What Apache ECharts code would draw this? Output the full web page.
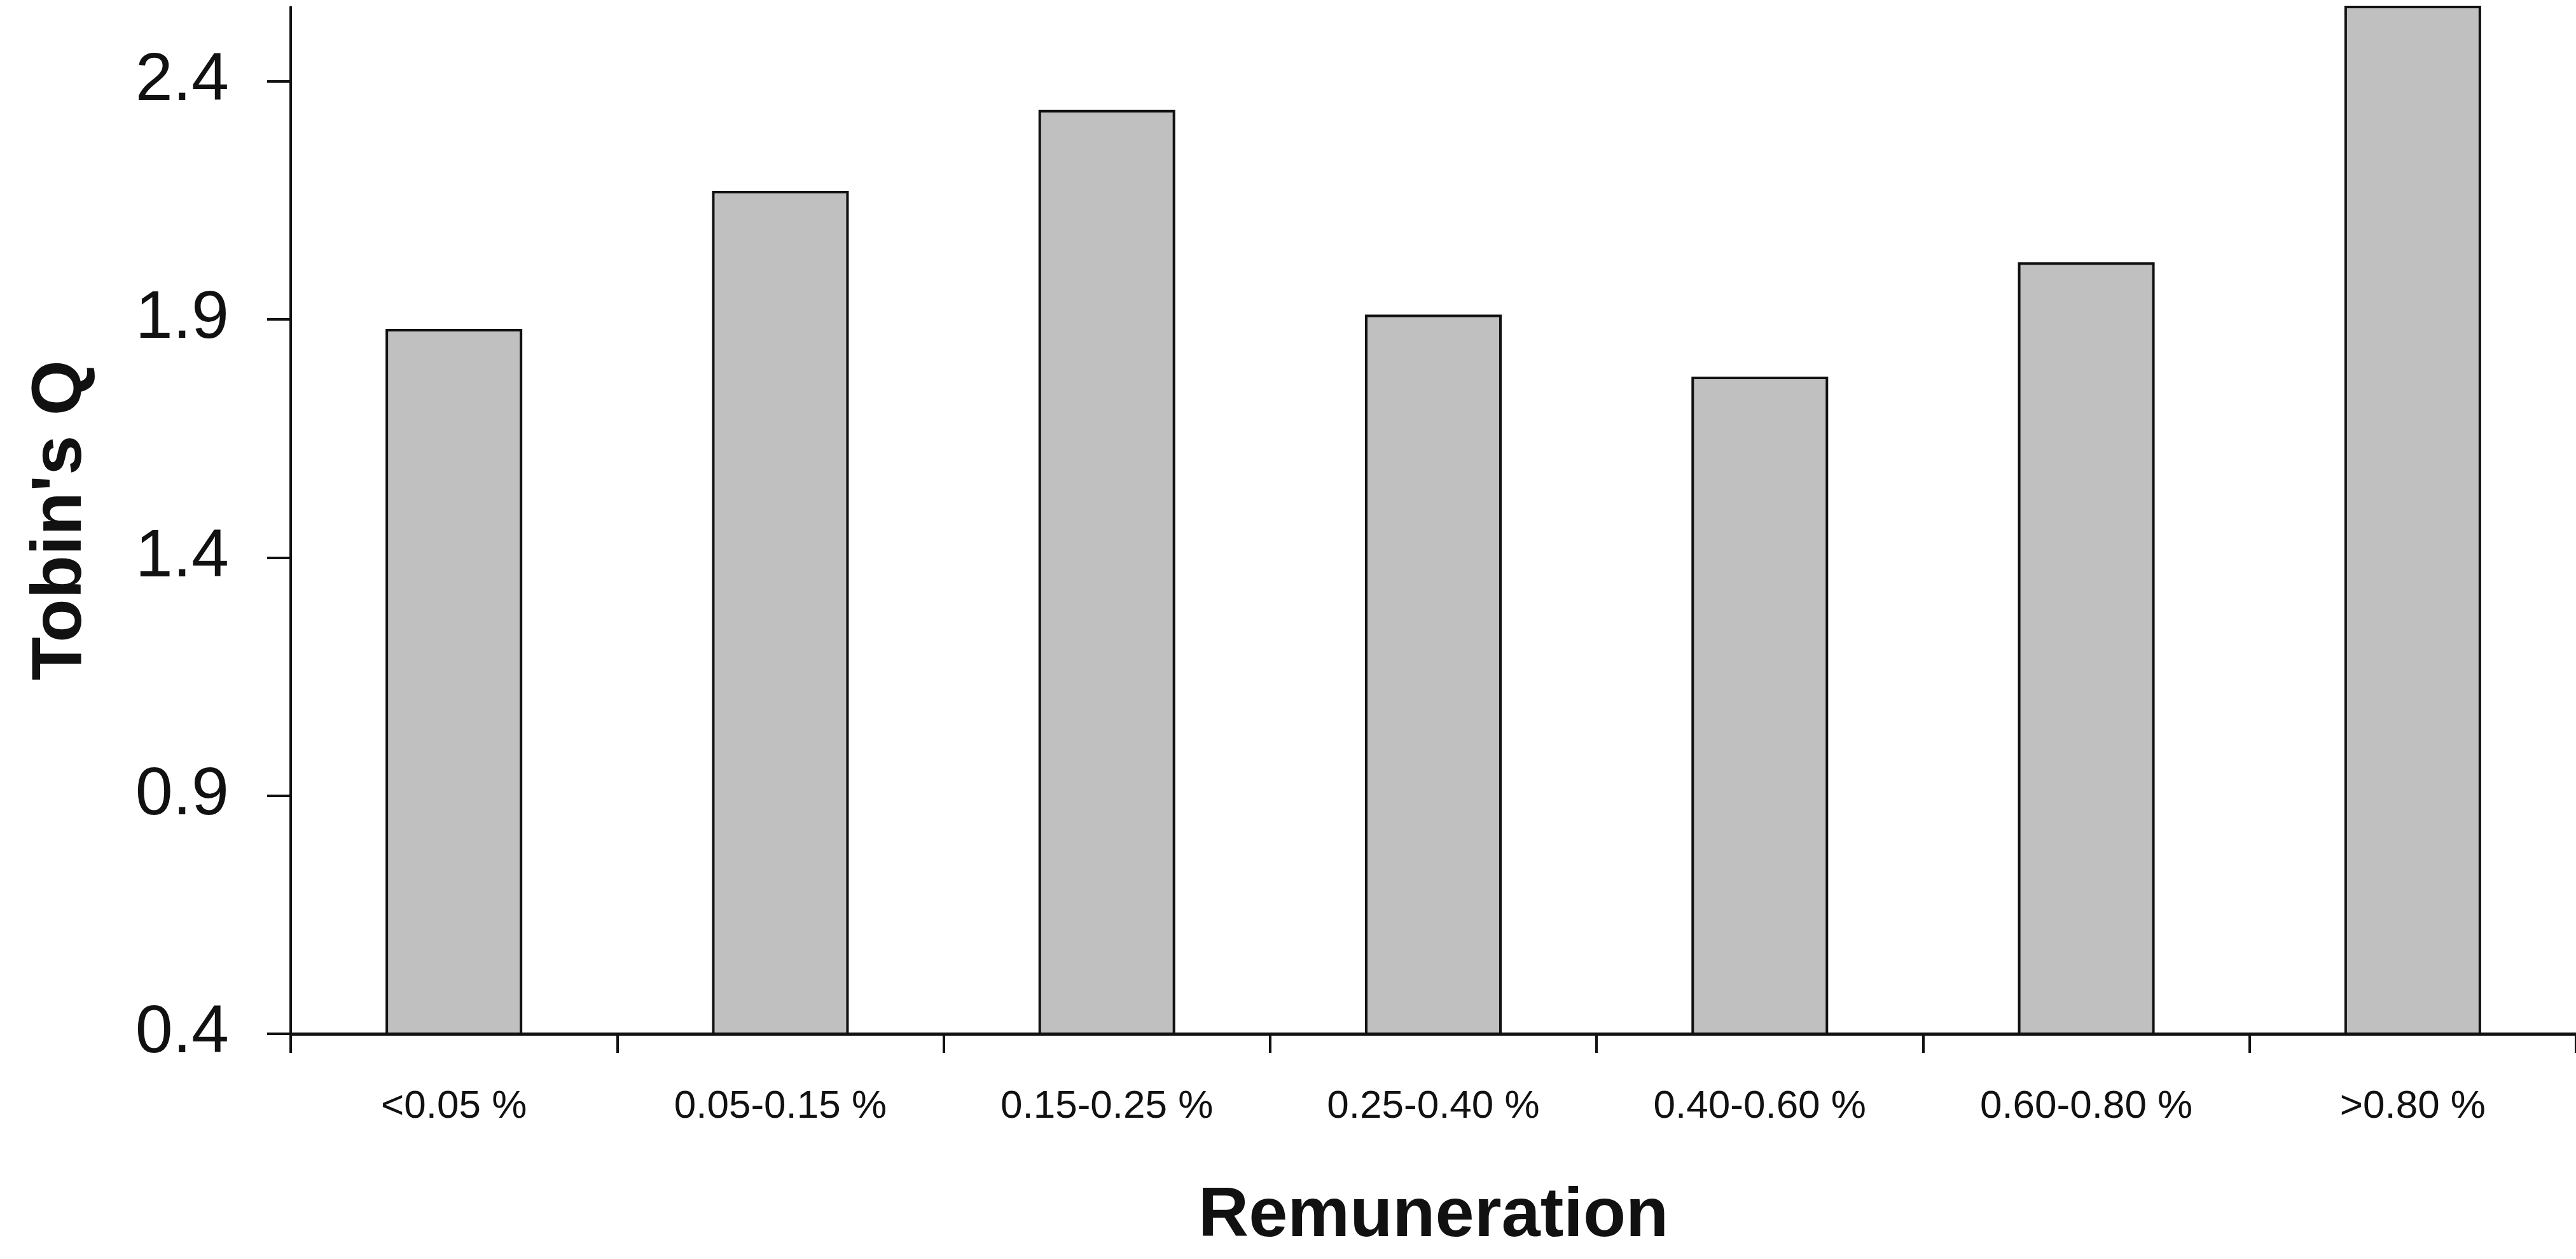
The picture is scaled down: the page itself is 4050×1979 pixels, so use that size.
<!DOCTYPE html>
<html>
<head>
<meta charset="utf-8">
<script src="https://cdn.jsdelivr.net/npm/echarts@6/dist/echarts.min.js"></script>
<style>
  html, body { margin: 0; padding: 0; background: #ffffff; }
  #chart { width: 4050px; height: 1979px; }
</style>
</head>
<body>
<div id="chart"></div>
<script>
const categories = ['<0.05 %', '0.05-0.15 %', '0.15-0.25 %', '0.25-0.40 %', '0.40-0.60 %', '0.60-0.80 %', '>0.80 %'];
const tobinsQ = [1.88, 2.17, 2.34, 1.91, 1.78, 2.02, 2.58];
const yTicks = [0.4, 0.9, 1.4, 1.9, 2.4];
const yLabelText = ['0.4', '0.9', '1.4', '1.9', '2.4'];

const chart = echarts.init(document.getElementById('chart'), null, { renderer: 'canvas' });
chart.setOption({
  animation: false,
  backgroundColor: '#ffffff',
  grid: { left: 457, top: 11, width: 3633, height: 1614, containLabel: false },
  xAxis: {
    type: 'category',
    data: categories,
    name: 'Remuneration',
    nameLocation: 'middle',
    nameGap: 233,
    nameTextStyle: { fontFamily: 'Liberation Sans, Arial, sans-serif', fontWeight: 'bold', fontSize: 110, color: '#111' },
    axisLine: { show: true, lineStyle: { color: '#111', width: 5 } },
    axisTick: { show: true, alignWithLabel: false, length: 30, lineStyle: { color: '#111', width: 4 } },
    axisLabel: { margin: 84, fontFamily: 'Liberation Sans, Arial, sans-serif', fontSize: 62, color: '#111', interval: 0 },
    splitLine: { show: false }
  },
  yAxis: {
    type: 'value',
    min: 0.4,
    max: 2.556,
    name: "Tobin's Q",
    nameLocation: 'middle',
    nameRotate: 90,
    nameGap: 305,
    nameTextStyle: { fontFamily: 'Liberation Sans, Arial, sans-serif', fontWeight: 'bold', fontSize: 112, color: '#111' },
    axisLine: { show: true, lineStyle: { color: '#111', width: 4 } },
    axisTick: { show: true, length: 37, customValues: yTicks, lineStyle: { color: '#111', width: 4 } },
    axisLabel: {
      margin: 97,
      customValues: yTicks,
      fontFamily: 'Liberation Sans, Arial, sans-serif',
      fontSize: 106,
      color: '#111',
      formatter: function (v) {
        const i = yTicks.findIndex(t => Math.abs(t - v) < 1e-6);
        return i >= 0 ? yLabelText[i] : '';
      }
    },
    splitLine: { show: false }
  },
  series: [{
    type: 'bar',
    data: tobinsQ,
    barWidth: 215,
    clip: true,
    itemStyle: { color: '#c0c0c0', borderColor: '#111', borderWidth: 4 }
  }]
});
</script>
</body>
</html>
